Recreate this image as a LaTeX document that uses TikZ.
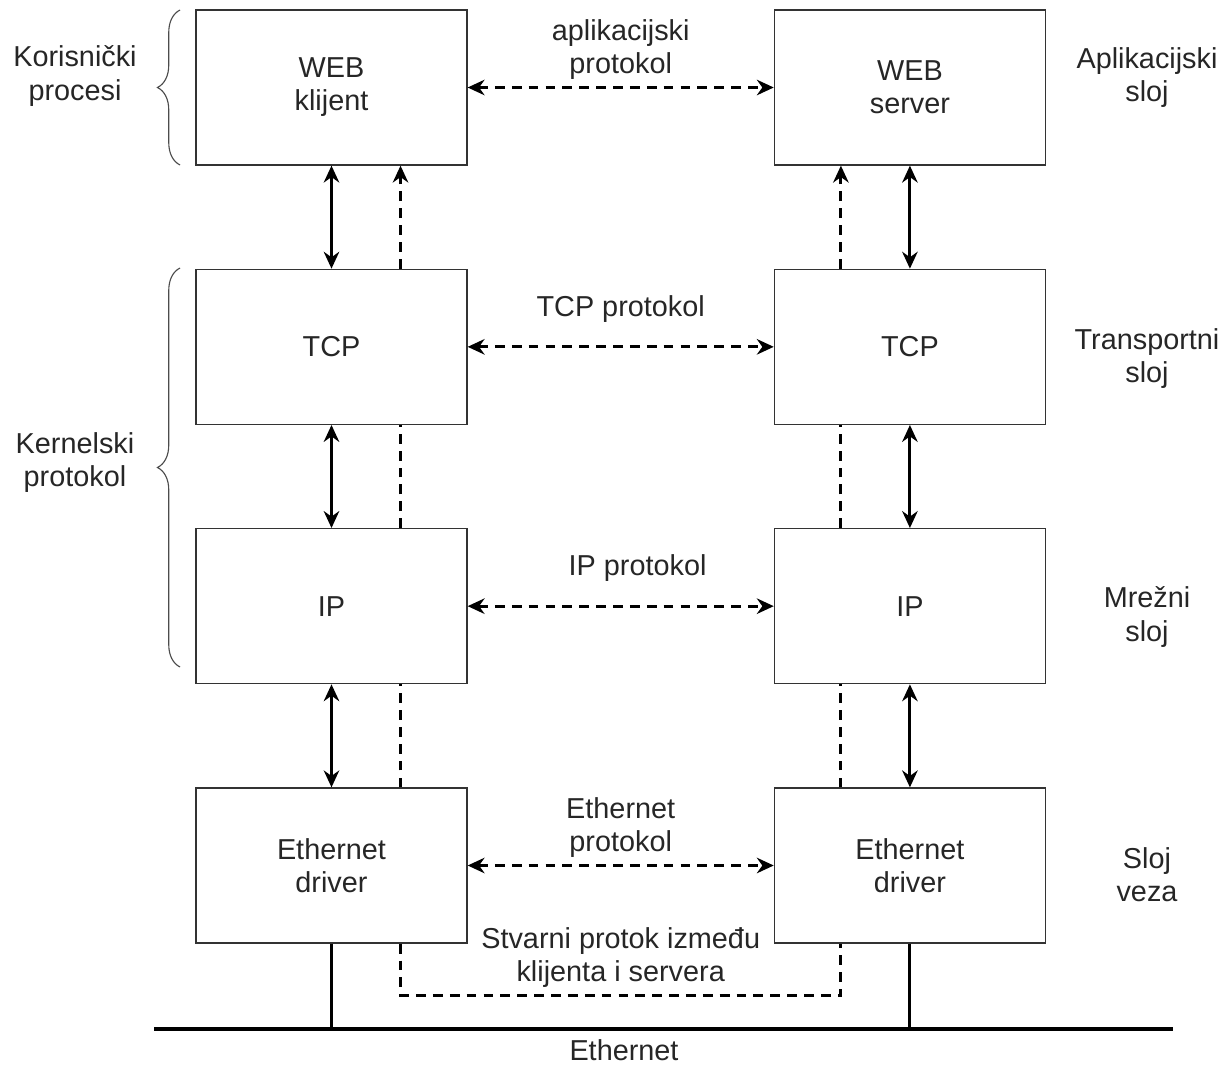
\documentclass[tikz,border=0pt]{standalone}
\usepackage{fontspec}
\setmainfont{Liberation Sans}
\usetikzlibrary{positioning,arrows.meta,decorations.pathreplacing}
\tikzset{
  sloj/.style={draw=black!80, line width=0.9pt, minimum width=6.775cm, minimum height=3.875cm, inner sep=0pt, align=center},
  veza/.style={<->, line width=2.2pt},
  protokol/.style={<->, line width=2.2pt, dash pattern=on 7pt off 5pt},
  tok/.style={line width=2.2pt, dash pattern=on 7pt off 5pt},
  natpis/.style={align=center},
  zagrada/.style={decorate, decoration={brace, amplitude=16pt}, draw=black!70, line width=0.8pt}
}

\begin{document}
\begin{tikzpicture}[x=0.025cm, y=-0.025cm, node distance=2.575cm and 7.65cm, >={Stealth[length=12pt,width=11pt]}, font=\fontsize{20.5}{23.5}\selectfont, text=black!85]
\useasboundingbox (0,0) rectangle (1231,1065);
\node[sloj] (webk) at (331.5,87.5) {WEB\\klijent};
\node[sloj, below=of webk] (tcpk) {TCP};
\node[sloj, below=of tcpk] (ipk) {IP};
\node[sloj, below=of ipk] (ethk) {Ethernet\\driver};
\node[sloj, right=of webk] (webs) {WEB\\server};
\node[sloj, right=of tcpk] (tcps) {TCP};
\node[sloj, right=of ipk] (ips) {IP};
\node[sloj, right=of ethk] (eths) {Ethernet\\driver};
\draw[veza] (webk) -- (tcpk);
\draw[veza] (tcpk) -- (ipk);
\draw[veza] (ipk) -- (ethk);
\draw[veza] (webs) -- (tcps);
\draw[veza] (tcps) -- (ips);
\draw[veza] (ips) -- (eths);
\draw[protokol] (webk) -- node[midway, yshift=27pt, natpis] {aplikacijski\\protokol} (webs);
\draw[protokol] (tcpk) -- node[midway, yshift=27pt] {TCP protokol} (tcps);
\draw[protokol] (ipk) -- node[midway, yshift=27pt, xshift=12pt] {IP protokol} (ips);
\draw[protokol] (ethk) -- node[midway, yshift=27pt, natpis] {Ethernet\\protokol} (eths);
\draw[tok] ([xshift=1.725cm] ethk.north) -- ([xshift=1.725cm] ipk.south);
\draw[tok] ([xshift=1.725cm] ipk.north) -- ([xshift=1.725cm] tcpk.south);
\draw[tok, ->] ([xshift=1.725cm] tcpk.north) -- ([xshift=1.725cm] webk.south);
\draw[tok] ([xshift=-1.725cm] eths.north) -- ([xshift=-1.725cm] ips.south);
\draw[tok] ([xshift=-1.725cm] ips.north) -- ([xshift=-1.725cm] tcps.south);
\draw[tok, ->] ([xshift=-1.725cm] tcps.north) -- ([xshift=-1.725cm] webs.south);
\draw[tok] ([xshift=1.725cm] ethk.south) |- node[pos=0.75, yshift=27pt, natpis] {Stvarni protok između\\klijenta i servera} ([xshift=-1.725cm, yshift=-1.3cm] eths.south) -- ([xshift=-1.725cm] eths.south);
\coordinate (mrezaL) at (154,1029);
\coordinate (mrezaD) at (1173,1029);
\draw[line width=2.8pt] (mrezaL) -- (mrezaD);
\draw[line width=2.2pt] (ethk.south) -- (ethk.south |- mrezaL);
\draw[line width=2.2pt] (eths.south) -- (eths.south |- mrezaL);
\node[inner sep=1pt] (mreza) at (624,1050) {Ethernet};
\draw[zagrada] (180,165) -- (180,10);
\draw[zagrada] (180,667) -- (180,268);
\node[natpis] (korisnik) at (75,76) {Korisnički\\procesi};
\node[natpis] (kernel) at (75,463) {Kernelski\\protokol};
\node[natpis] (aplik) at (1147,78) {Aplikacijski\\sloj};
\node[natpis] (transp) at (1147,359) {Transportni\\sloj};
\node[natpis] (mrezni) at (1147,617) {Mrežni\\sloj};
\node[natpis] (vezni) at (1147,875) {Sloj\\veza};
\end{tikzpicture}
\end{document}
